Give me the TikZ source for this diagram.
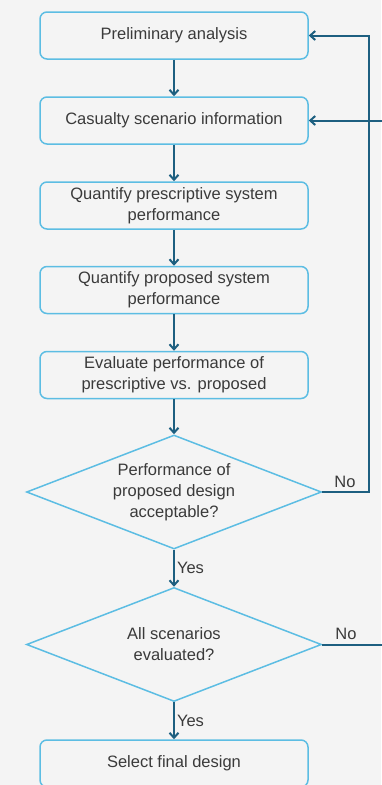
\documentclass[tikz,border=0pt]{standalone}
\usepackage{fontspec}
\setmainfont{Liberation Sans}
\usetikzlibrary{shapes.geometric,arrows.meta}
\definecolor{bg}{HTML}{F4F4F4}
\definecolor{edgeblue}{HTML}{5CBDE3}
\definecolor{arrowc}{HTML}{1D5F80}
\definecolor{txt}{HTML}{3A3A3A}
\begin{document}
\begin{tikzpicture}[x=1pt,y=-1pt,
  every node/.style={text=txt,font=\fontsize{16.5}{21}\selectfont},
  procbox/.style={draw=edgeblue,line width=1.5pt,fill=bg,rounded corners=7pt,minimum width=268pt,minimum height=47pt,align=center,inner sep=0pt},
  decis/.style={draw=edgeblue,line width=1.5pt,fill=bg,diamond,aspect=2.59,minimum width=295pt,minimum height=114pt,align=center,inner sep=0pt},
  flow/.style={draw=arrowc,line width=2pt,-{Straight Barb[length=5pt,width=9pt,line width=2pt]}},
  lbl/.style={text=txt,font=\fontsize{16.5}{21}\selectfont,inner sep=1pt}]
\fill[bg] (0,0) rectangle (381,785);
\useasboundingbox (0,0) rectangle (381,785);
\node[procbox] (a) at (174,35.5) {Preliminary analysis};
\node[procbox] (b) at (174,120.5) {Casualty scenario information};
\node[procbox] (c) at (174,205.5) {Quantify prescriptive system\\performance};
\node[procbox] (d) at (174,290) {Quantify proposed system\\performance};
\node[procbox] (e) at (174,375) {Evaluate performance of\\prescriptive vs. proposed};
\node[decis] (f) at (174,492) {Performance of\\proposed design\\acceptable?};
\node[decis] (g) at (174,644.5) {All scenarios\\evaluated?};
\node[procbox] (h) at (174,763.5) {Select final design};
\coordinate (r1) at (369,492);
\coordinate (r2) at (390,644.5);
\draw[flow] (a) -- (b);
\draw[flow] (b) -- (c);
\draw[flow] (c) -- (d);
\draw[flow] (d) -- (e);
\draw[flow] (e) -- (f);
\draw[flow] (f) -- node[lbl,right=1pt] {Yes} (g);
\draw[flow] (g) -- node[lbl,right=1pt] {Yes} (h);
\draw[flow] (f.east) -- (r1) -- (r1 |- a.east) -- (a.east);
\draw[flow] (g.east) -- (r2) -- (r2 |- b.east) -- (b.east);
\node[lbl,anchor=south] at (345,489) {No};
\node[lbl,anchor=south] at (346,641) {No};
\end{tikzpicture}
\end{document}
